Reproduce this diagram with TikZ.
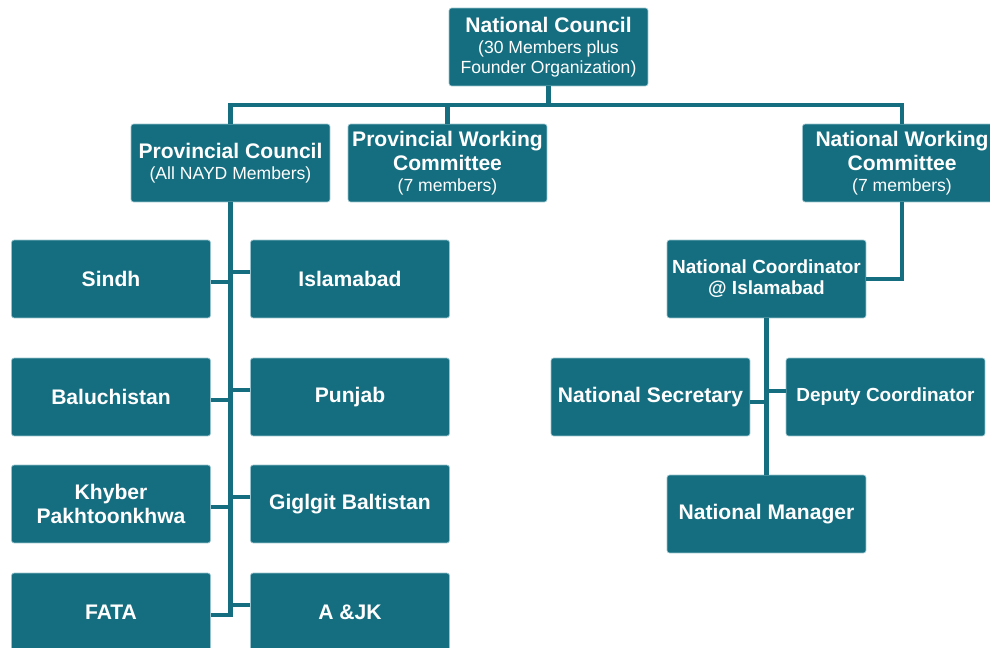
\documentclass[tikz,border=0pt]{standalone}
\usepackage{fontspec}
\setmainfont{Liberation Sans}
\usepackage{tikz}
\usetikzlibrary{calc, positioning}
\definecolor{NaydTeal}{RGB}{21, 110, 128}
\definecolor{MistEdge}{RGB}{150, 195, 205}
\newcommand{\memberline}[1]{{\fontsize{10}{11}\selectfont\mdseries #1}}

\begin{document}
\begin{tikzpicture}[x=0.02cm, y=-0.02cm,
    unit/.style={rectangle, rounded corners=1.5pt, fill=NaydTeal, draw=MistEdge, line width=0.4pt,
        text=white, minimum width=3.98cm, minimum height=1.56cm, inner sep=0pt, align=center,
        font=\fontsize{12}{13.5}\selectfont\bfseries},
    smallunit/.style={unit, font=\fontsize{10.8}{12}\selectfont\bfseries},
    link/.style={NaydTeal, line width=2.8pt}]
    \useasboundingbox (0,0) rectangle (990,648);
    \clip (0,0) rectangle (990,648);

    % Consejos y comites
    \node[unit] (nc) at (548.5,47) {National Council\\[-1.5pt]\memberline{(30 Members plus}\\[-2.5pt]\memberline{Founder Organization)}};
    \node[unit] (pc) at (230.5,163) {Provincial Council\\[-1.5pt]\memberline{(All NAYD Members)}};
    \node[unit] (pwc) at (447.5,163) {Provincial Working\\Committee\\[-1.5pt]\memberline{(7 members)}};
    \node[unit] (nwc) at (902,163) {National Working\\Committee\\[-1.5pt]\memberline{(7 members)}};
    \coordinate (bus) at (545,105);

    % Provincias
    \node[unit] (sindh) at (111,279) {Sindh};
    \node[unit] (islamabad) at (350,279) {Islamabad};
    \node[unit] (baluchistan) at (111,397) {Baluchistan};
    \node[unit] (punjab) at (350,397) {Punjab};
    \node[unit] (khyber) at (111,504) {Khyber\\Pakhtoonkhwa};
    \node[unit] (gilgit) at (350,504) {Giglgit Baltistan};
    \node[unit] (fata) at (111,612) {FATA};
    \node[unit] (ajk) at (350,612) {A \&JK};

    % Secretaria nacional
    \node[smallunit] (ncoord) at (766.5,279) {National Coordinator\\@ Islamabad};
    \node[unit] (nsec) at (650.5,397) {National Secretary};
    \node[smallunit] (deputy) at (885.5,397) {Deputy Coordinator};
    \node[unit] (nman) at (766.5,514) {National Manager};

    % Conectores
    \draw[link] (nc.south) -- (nc.south |- bus);
    \draw[link] (pc.north) |- (bus) -| (nwc.north);
    \draw[link] (pwc.north) -- (pwc.north |- bus);
    \foreach \prov in {sindh, baluchistan, khyber, fata}
        \draw[link] ([yshift=-0.06cm]\prov.east) -| (pc.south);
    \foreach \prov in {islamabad, punjab, gilgit, ajk}
        \draw[link] ([yshift=0.14cm]\prov.west) -| (pc.south);
    \draw[link] (nwc.south) |- (ncoord.east);
    \draw[link] (ncoord.south) -- (nman.north);
    \draw[link] ([yshift=-0.1cm]nsec.east) -| (ncoord.south);
    \draw[link] ([yshift=0.12cm]deputy.west) -| (ncoord.south);
\end{tikzpicture}
\end{document}
